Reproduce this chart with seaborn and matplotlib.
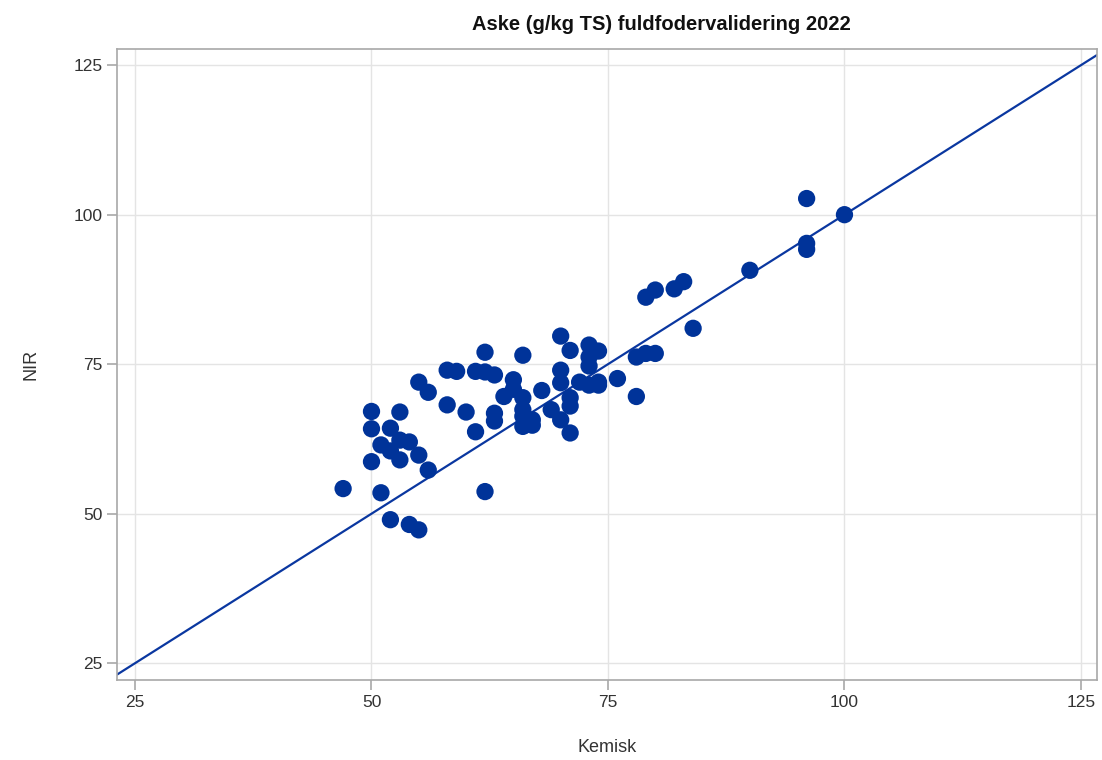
import matplotlib
matplotlib.use("Agg")
import matplotlib.pyplot as plt
import seaborn as sns
import pandas as pd

# kemisk (reference) vs NIR ash values, g/kg TS
kemisk = [47, 50, 50, 50, 51, 51, 52, 52, 52, 53, 53, 53, 54, 54, 55, 55, 55, 56, 56,
          58, 58, 59, 60, 61, 61, 62, 62, 62, 63, 63, 63, 64, 65, 65, 66, 66, 66, 66, 66,
          67, 67, 68, 69, 70, 70, 70, 70, 71, 71, 71, 71, 72, 73, 73, 73, 73, 74, 74, 74,
          76, 78, 78, 79, 79, 80, 80, 82, 83, 84, 90, 96, 96, 96, 100]
nir = [54.2, 67.1, 64.2, 58.7, 61.5, 53.5, 64.3, 60.5, 49.0, 67.0, 62.3, 59.0, 62.0, 48.2,
       59.8, 47.3, 72.0, 70.3, 57.3, 74.0, 68.2, 73.8, 67.0, 73.8, 63.7, 77.0, 73.7, 53.7,
       73.2, 66.8, 65.5, 69.6, 72.4, 70.8, 69.4, 76.5, 67.4, 66.3, 64.6, 64.8, 65.7, 70.6,
       67.4, 79.7, 74.0, 71.9, 65.7, 77.3, 69.4, 68.0, 63.5, 72.0, 78.2, 76.2, 74.7, 71.5,
       77.2, 72.0, 71.5, 72.6, 76.2, 69.6, 76.8, 86.2, 76.8, 87.4, 87.6, 88.8, 81.0, 90.7,
       102.7, 95.2, 94.2, 100.0]
ticks = [25, 50, 75, 100, 125]
ref_slope = 1.0

df = pd.DataFrame({"Kemisk": kemisk, "NIR": nir})

sns.set_theme(style="whitegrid")
plt.rcParams["font.family"] = ["Liberation Sans", "DejaVu Sans"]

blue = "#003399"
fig = plt.figure(figsize=(11.02, 7.60), dpi=100)
ax = fig.add_axes([0.1062, 0.1053, 0.8893, 0.8302])

sns.scatterplot(data=df, x="Kemisk", y="NIR", color=blue, s=155, edgecolor="none", ax=ax, zorder=3)
ax.axline((0, 0), slope=ref_slope, color="#0a37a0", lw=1.6, zorder=2)

ax.set_xlim(23.1, 126.7)
ax.set_ylim(22.2, 127.7)
ax.set_xticks(ticks)
ax.set_yticks(ticks)
ax.grid(True, color="#e4e4e4", lw=1)
for s in ax.spines.values():
    s.set_color("#a8a8a8")
    s.set_linewidth(1.2)
ax.tick_params(axis="both", which="both", length=7, width=1.2, color="#a8a8a8",
               labelsize=12.5, labelcolor="#333333", direction="out",
               bottom=True, left=True)
ax.set_xlabel("Kemisk", fontsize=13, color="#333333", labelpad=21)
ax.set_ylabel("NIR", fontsize=13, color="#333333", labelpad=24)
ax.set_title("Aske (g/kg TS) fuldfodervalidering 2022", fontsize=14.5, fontweight="bold",
             color="#111111", pad=14, x=0.555)

fig.savefig("out.png", dpi=100)
